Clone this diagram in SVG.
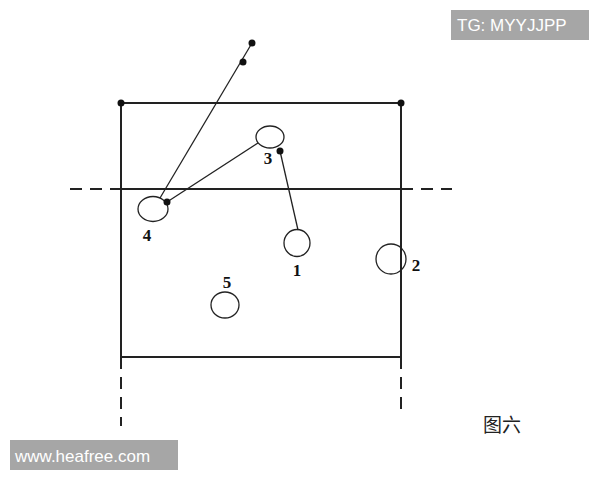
<svg xmlns="http://www.w3.org/2000/svg" width="600" height="480" viewBox="0 0 600 480">
<style>
.ln{stroke:#222;stroke-width:2;fill:none}
.th{stroke:#222;stroke-width:1.3;fill:none}
.ds{stroke:#222;stroke-width:2;fill:none;stroke-dasharray:12 8}
.pl{fill:none;stroke:#222;stroke-width:1.3}
.dot{fill:#111}
.lb{font-family:"Liberation Serif",serif;font-weight:bold;font-size:17px;fill:#111;text-anchor:middle}
.wm{font-family:"Liberation Sans",sans-serif;font-size:17px;fill:#fff}
</style>
<rect width="600" height="480" fill="#fff"/>
<g id="court">
<rect x="121" y="103" width="280" height="254" class="ln"/>
<line x1="70" y1="189" x2="121" y2="189" class="ds" stroke-dasharray="8 6 22 0"/>
<line x1="121" y1="189" x2="401" y2="189" class="ln"/>
<line x1="401" y1="189" x2="452" y2="189" class="ds" stroke-dasharray="14 8 12 8"/>
<line x1="121" y1="357" x2="121" y2="426" class="ds" stroke-dasharray="14 8"/>
<line x1="401" y1="357" x2="401" y2="414" class="ds" stroke-dasharray="12 8"/>
<circle cx="121" cy="103" r="3.5" class="dot"/>
<circle cx="401" cy="103" r="3.5" class="dot"/>
</g>
<g id="connectors">
<line x1="160" y1="198" x2="252" y2="43" class="th"/>
<line x1="167" y1="202" x2="258" y2="143" class="th"/>
<line x1="280" y1="151" x2="298" y2="230" class="th"/>
</g>
<g id="node3"><ellipse cx="270" cy="137" rx="14" ry="11" class="pl" fill="#fff" style="fill:#fff"/><text x="268" y="164" class="lb">3</text></g>
<g id="node1"><ellipse cx="297" cy="243" rx="13" ry="13.5" class="pl"/><text x="297" y="276" class="lb">1</text></g>
<g id="node2"><ellipse cx="391" cy="259" rx="15" ry="15" class="pl"/><text x="416" y="271" class="lb">2</text></g>
<g id="node5"><ellipse cx="225" cy="305" rx="14" ry="13" class="pl"/><text x="227" y="288" class="lb">5</text></g>
<g id="node4"><ellipse cx="153" cy="209" rx="15" ry="12.5" class="pl"/><text x="147" y="241" class="lb">4</text></g>
<g id="dots">
<circle cx="280" cy="151" r="3.5" class="dot"/>
<circle cx="167" cy="202" r="3.5" class="dot"/>
<circle cx="243" cy="62" r="3.5" class="dot"/>
<circle cx="252" cy="43" r="3.5" class="dot"/>
</g>
<text x="483" y="432" font-family="'Noto Sans CJK SC',sans-serif" font-size="19" fill="#222">图六</text>
<g id="wm1"><rect x="451" y="10" width="138" height="30" fill="#a6a6a6"/><text x="457" y="31" class="wm">TG: MYYJJPP</text></g>
<g id="wm2"><rect x="10" y="440" width="168" height="30" fill="#a6a6a6"/><text x="15" y="462" class="wm">www.heafree.com</text></g>
</svg>
